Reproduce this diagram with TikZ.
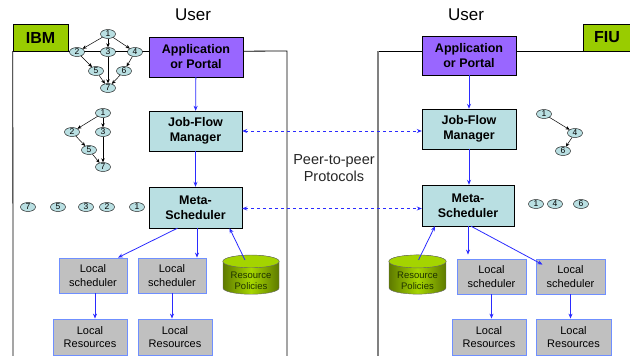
\documentclass[tikz,border=0pt]{standalone}
\usepackage{fontspec}
\setmainfont{Liberation Sans}
\usetikzlibrary{arrows.meta,shapes.geometric,calc}
\definecolor{sitegreen}{HTML}{99CC00}
\definecolor{portalpurple}{HTML}{9966FF}
\definecolor{flowcyan}{HTML}{B9DFE2}
\definecolor{localgray}{HTML}{C0C0C0}
\definecolor{localedge}{HTML}{6F8FFF}
\definecolor{linkblue}{HTML}{2B2BFF}
\definecolor{dbdark}{HTML}{5E7A00}
\definecolor{dblight}{HTML}{A6D600}
\definecolor{dbtext}{HTML}{1E3200}

\begin{document}
\begin{tikzpicture}[
			x=1pt, y=-1pt,
			every node/.style={inner sep=0pt},
			sitebox/.style={draw=black, fill=sitegreen, font=\fontsize{16}{18}\selectfont\bfseries, minimum height=27pt},
			appbox/.style={draw=black, fill=portalpurple, align=center, font=\fontsize{12.5}{15}\selectfont\bfseries, minimum width=94pt, minimum height=40pt},
			flowbox/.style={draw=black, fill=flowcyan, align=center, font=\fontsize{12.5}{15}\selectfont\bfseries, minimum width=93pt, minimum height=40pt},
			localbox/.style={draw=localedge, line width=0.8pt, fill=localgray, align=center, font=\fontsize{11}{13.5}\selectfont, minimum height=35pt},
			policydb/.style={cylinder, shape border rotate=90, aspect=0.22, draw=black!60, left color=dbdark, right color=dbdark, middle color=dblight, inner xsep=28pt, minimum height=39pt},
			dbtop/.style={draw=black!60, fill=dblight!85!sitegreen},
			dblabel/.style={align=center, text=dbtext, font=\fontsize{9.5}{11}\selectfont},
			task/.style={ellipse, draw=black, fill=flowcyan, font=\fontsize{8.5}{9}\selectfont, minimum width=15pt, minimum height=9pt},
			taskedge/.style={-{Stealth[length=4pt,width=3.5pt]}, black, line width=0.5pt},
			link/.style={-{Stealth[length=5pt,width=4pt]}, linkblue, line width=0.8pt},
			peerlink/.style={{Stealth[length=5pt,width=4pt]}-{Stealth[length=5pt,width=4pt]}, linkblue, line width=0.8pt, dash pattern=on 3pt off 3pt},
			region/.style={black, line width=0.8pt}
		]
		\useasboundingbox (0,0) rectangle (630,356);

		% Sites and main boxes
		\node[sitebox, minimum width=55pt] (ibm) at (40.5,37.5) {IBM};
		\node[sitebox, minimum width=48pt] (fiu) at (607,37.5) {FIU};

		\node[appbox] (appL) at (196,57) {Application\\or Portal};
		\node[flowbox] (jfmL) at (195.5,131) {Job-Flow\\Manager};
		\node[flowbox, minimum height=41pt] (metaL) at (195.5,207.5) {Meta-\\Scheduler};

		\node[appbox, minimum height=39pt] (appR) at (469,55.5) {Application\\or Portal};
		\node[flowbox, minimum width=94pt] (jfmR) at (469,129) {Job-Flow\\Manager};
		\node[flowbox, minimum width=92pt, minimum height=41pt] (metaR) at (468,205.5) {Meta-\\Scheduler};

		\node[localbox, minimum width=68pt] (lsL1) at (93,275.5) {Local\\scheduler};
		\node[localbox, minimum width=68pt] (lsL2) at (172,275.5) {Local\\scheduler};
		\node[localbox, minimum width=74pt, minimum height=36pt] (lrL1) at (90,337) {Local\\Resources};
		\node[localbox, minimum width=74pt, minimum height=36pt] (lrL2) at (175,337) {Local\\Resources};
		\node[policydb] (dbL) at (251,281) {};

		\node[localbox, minimum width=69pt] (lsR1) at (491.5,276.5) {Local\\scheduler};
		\node[localbox, minimum width=69pt] (lsR2) at (570.5,276.5) {Local\\scheduler};
		\node[localbox, minimum width=74pt, minimum height=36pt] (lrR1) at (489,337) {Local\\Resources};
		\node[localbox, minimum width=75pt, minimum height=36pt] (lrR2) at (573.5,337) {Local\\Resources};
		\node[policydb, inner xsep=28.5pt] (dbR) at (417.5,281) {};

		% Cylinder ends and texts
		\draw[dbtop] let \p1=(dbL.top), \p2=(dbL.before top), \p3=(dbL.after top) in
			($(\p2)!0.5!(\p3)$) ellipse ({abs(\x3-\x2)/2} and {abs(\y1-\y2)});
		\draw[dbtop] let \p1=(dbR.top), \p2=(dbR.before top), \p3=(dbR.after top) in
			($(\p2)!0.5!(\p3)$) ellipse ({abs(\x3-\x2)/2} and {abs(\y1-\y2)});
		\node[dblabel] (polL) at (251,281) {Resource\\Policies};
		\node[dblabel] (polR) at (417.5,281) {Resource\\Policies};

		% Site borders
		\draw[region] (13,356) -- (ibm.south west);
		\draw[region] (ibm.south east) -- (ibm.south east -| appL.west);
		\draw[region] (appL.east |- ibm.south) -- (287,51) -- (287,356);
		\draw[region] (378,51) -- (378,51 -| appR.west);
		\draw[region] (appR.east |- fiu.south) -- (fiu.south west);
		\draw[gray, line width=1.6pt] (378,356) -- (378,51);

		% Connections
		\draw[link] (appL) -- (jfmL);
		\draw[link] (jfmL) -- (metaL);
		\draw[link] ([xshift=-18pt]metaL.south) -- ([xshift=25pt]lsL1.north);
		\draw[link] ([xshift=1.5pt]metaL.south) -- ([xshift=1.5pt]metaL.south |- lsL2.north);
		\draw[link] ([xshift=-6pt,yshift=-5pt]dbL.top) -- ([xshift=34pt]metaL.south);
		\draw[link] ([xshift=2pt]lsL1.south) -- ([xshift=2pt]lsL1.south |- lrL1.north);
		\draw[link] (lsL2.south) -- (lsL2.south |- lrL2.north);

		\draw[link] (appR) -- (appR |- jfmR.north);
		\draw[link] (jfmR) -- (jfmR |- metaR.north);
		\draw[link, shorten >=4pt] (metaR.south) -- (metaR.south |- lsR1.north);
		\draw[link] ([xshift=3pt]metaR.south) -- ([xshift=-28pt,yshift=-6pt]lsR2.north);
		\draw[link] ([xshift=1pt,yshift=-5pt]dbR.top) -- ([xshift=-33pt]metaR.south);
		\draw[link] (lsR1.south) -- (lsR1.south |- lrR1.north);
		\draw[link] (lsR2.south) -- (lsR2.south |- lrR2.north);

		\draw[peerlink] (jfmL.east) -- (jfmL.east -| jfmR.west);
		\draw[peerlink] ([yshift=-1pt]metaL.east) -- ([yshift=-1pt]metaL.east -| metaR.west);

		% Task graphs
		\node[task] (a1) at (108,34) {1};
		\node[task] (a2) at (77,52) {2};
		\node[task] (a3) at (108,52) {3};
		\node[task] (a4) at (135,52) {4};
		\node[task] (a5) at (96,71) {5};
		\node[task] (a6) at (124,71) {6};
		\node[task] (a7) at (108,88) {7};
		\draw[taskedge] (a1) -- (a2);
		\draw[taskedge] (a1) -- (a3);
		\draw[taskedge] (a1) -- (a4);
		\draw[taskedge] (a2) -- (a5);
		\draw[taskedge] (a3) -- (a7);
		\draw[taskedge] (a4) -- (a6);
		\draw[taskedge] (a5) -- (a7);
		\draw[taskedge] (a6) -- (a7);

		\node[task] (b1) at (103,113) {1};
		\node[task] (b2) at (72,132) {2};
		\node[task] (b3) at (103,132) {3};
		\node[task] (b5) at (89,150) {5};
		\node[task] (b7) at (103,167) {7};
		\draw[taskedge] (b1) -- (b2);
		\draw[taskedge] (b1) -- (b3);
		\draw[taskedge] (b2) -- (b5);
		\draw[taskedge] (b5) -- (b7);
		\draw[taskedge] (b3) -- (b7);

		\node[task] (c7) at (28,207) {7};
		\node[task] (c5) at (58,207) {5};
		\node[task] (c3) at (86,207) {3};
		\node[task] (c2) at (107,207) {2};
		\node[task] (c1) at (137,207) {1};

		\node[task] (d1) at (544,114) {1};
		\node[task] (d4) at (575,133) {4};
		\node[task] (d6) at (563,151) {6};
		\draw[taskedge] (d1) -- (d4);
		\draw[taskedge] (d4) -- (d6);

		\node[task] (e1) at (536,204) {1};
		\node[task] (e4) at (555,204) {4};
		\node[task] (e6) at (581,204) {6};

		% Labels
		\node[font=\fontsize{17}{20}\selectfont] (userL) at (193,15) {User};
		\node[font=\fontsize{17}{20}\selectfont] (userR) at (466,15) {User};
		\node[align=center, text=black!85, font=\fontsize{14.5}{17.5}\selectfont] (peer) at (334,168) {Peer-to-peer\\Protocols};
	\end{tikzpicture}
\end{document}
